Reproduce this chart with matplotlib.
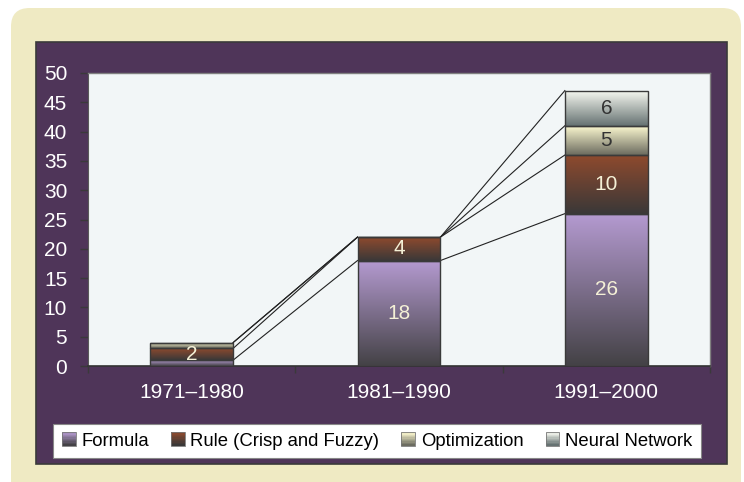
import numpy as np
import matplotlib
matplotlib.use("Agg")
import matplotlib.pyplot as plt
from matplotlib.patches import FancyBboxPatch, Rectangle
from matplotlib.legend_handler import HandlerBase
from matplotlib.colors import to_rgb

plt.rcParams['font.family'] = ['Liberation Sans', 'DejaVu Sans']

categories = ["1971\u20131980", "1981\u20131990", "1991\u20132000"]
series_names = ["Formula", "Rule (Crisp and Fuzzy)", "Optimization", "Neural Network"]
formula = [1, 18, 26]
rule = [2, 4, 10]
optimization = [1, 0, 5]
neural = [0, 0, 6]
yticks = [0, 5, 10, 15, 20, 25, 30, 35, 40, 45, 50]

series_values = [formula, rule, optimization, neural]
grad_top = ["#b49ad0", "#8e4a2e", "#fffbd2", "#f8faf2"]
grad_bot = ["#444246", "#3a3838", "#6c6c60", "#667272"]
label_colors = ["#f4f0d6", "#f4f0d6", "#333333", "#333333"]

W, H = 744, 482
fig = plt.figure(figsize=(W / 100, H / 100), dpi=100)
fig.patch.set_facecolor("white")

# outer pale yellow rounded panel
fig.patches.append(FancyBboxPatch((11 / W, -0.05), (741 - 11) / W, (H - 8) / H + 0.05,
                                  boxstyle="round,pad=0,rounding_size=0.025",
                                  transform=fig.transFigure, facecolor="#efeac3",
                                  edgecolor="none", zorder=0, mutation_aspect=W / H))
# purple panel
fig.patches.append(Rectangle((36 / W, (H - 464) / H), (727 - 36) / W, (464 - 42) / H,
                             transform=fig.transFigure, facecolor="#4f3559",
                             edgecolor="#3a3a3a", linewidth=1.2, zorder=1))

ax = fig.add_axes([88 / W, (H - 366) / H, 622 / W, 293 / H])
ax.set_facecolor("#f2f6f7")
ax.set_zorder(2)

x = np.arange(len(categories))
width = 0.4


def grad_array(top, bot, n=64):
    t = np.linspace(0, 1, n)[:, None]
    c0 = np.array(to_rgb(top))
    c1 = np.array(to_rgb(bot))
    return (c0 * (1 - t) + c1 * t)[:, None, :]


bottom = np.zeros(len(categories))
tops = []
for i, vals in enumerate(series_values):
    vals = np.array(vals, dtype=float)
    bars = ax.bar(x, vals, width, bottom=bottom, facecolor="none",
                  edgecolor="#3a3a3a", linewidth=1.0, zorder=4)
    for j, p in enumerate(bars.patches):
        if vals[j] <= 0:
            continue
        bx, by = p.get_x(), p.get_y()
        bw, bh = p.get_width(), p.get_height()
        im = ax.imshow(grad_array(grad_top[i], grad_bot[i]),
                       extent=[bx, bx + bw, by, by + bh], aspect="auto",
                       origin="upper", zorder=3, interpolation="bilinear")
        im.set_clip_path(p)
        if vals[j] >= 2:
            ax.text(x[j], by + bh / 2, f"{int(vals[j])}", ha="center", va="center",
                    fontsize=15, color=label_colors[i], zorder=5)
    bottom = bottom + vals
    tops.append(bottom.copy())

# series lines connecting stack tops between bars
for t in tops:
    for j in range(len(categories) - 1):
        ax.plot([x[j] + width / 2, x[j + 1] - width / 2], [t[j], t[j + 1]],
                color="#222222", linewidth=0.8, zorder=2.5)

ax.set_xlim(-0.5, len(categories) - 0.5)
ax.set_ylim(0, 50)
ax.set_yticks(yticks)
ax.set_yticklabels([str(v) for v in yticks])
ax.set_xticks(x)
ax.set_xticklabels(categories)
ax.set_xticks(np.arange(-0.5, len(categories), 1.0), minor=True)
ax.tick_params(axis="x", which="major", length=0, pad=12, labelsize=15, labelcolor="white")
ax.tick_params(axis="x", which="minor", length=5, width=1, color="#3a3a3a", direction="out")
ax.tick_params(axis="y", length=6, width=1, color="#3a3a3a", pad=9, labelsize=15,
               labelcolor="white", direction="out")

for s in ["top", "right"]:
    ax.spines[s].set_color("#808080")
    ax.spines[s].set_linewidth(1.0)
ax.spines["left"].set_color("#5a5a5a")
ax.spines["bottom"].set_color("#333333")
ax.spines["bottom"].set_linewidth(1.2)


class GradHandler(HandlerBase):
    def __init__(self, top, bot):
        super().__init__()
        self.top, self.bot = top, bot

    def create_artists(self, legend, orig_handle, xdescent, ydescent, width, height,
                       fontsize, trans):
        n = 10
        arts = []
        cols = grad_array(self.top, self.bot, n)[:, 0, :]
        for k in range(n):
            r = Rectangle((-xdescent, -ydescent + height * (1 - (k + 1) / n)), width,
                          height / n + 0.3, facecolor=cols[k], edgecolor="none",
                          transform=trans)
            arts.append(r)
        arts.append(Rectangle((-xdescent, -ydescent), width, height, facecolor="none",
                              edgecolor="#777777", linewidth=0.6, transform=trans))
        return arts


handles = [Rectangle((0, 0), 1, 1) for _ in series_names]
hmap = {h: GradHandler(grad_top[i], grad_bot[i]) for i, h in enumerate(handles)}
leg = fig.legend(handles, series_names, handler_map=hmap, ncol=4,
                 loc="center", bbox_to_anchor=(377 / W, (H - 441) / H),
                 fontsize=13.3, frameon=True, fancybox=False, edgecolor="#888888",
                 facecolor="white", framealpha=1, handlelength=0.75, handleheight=0.75,
                 handletextpad=0.3, columnspacing=1.2, borderpad=0.45)
leg.get_frame().set_linewidth(0.8)
leg.set_zorder(5)

fig.savefig("out.png", dpi=100, facecolor=fig.get_facecolor())
